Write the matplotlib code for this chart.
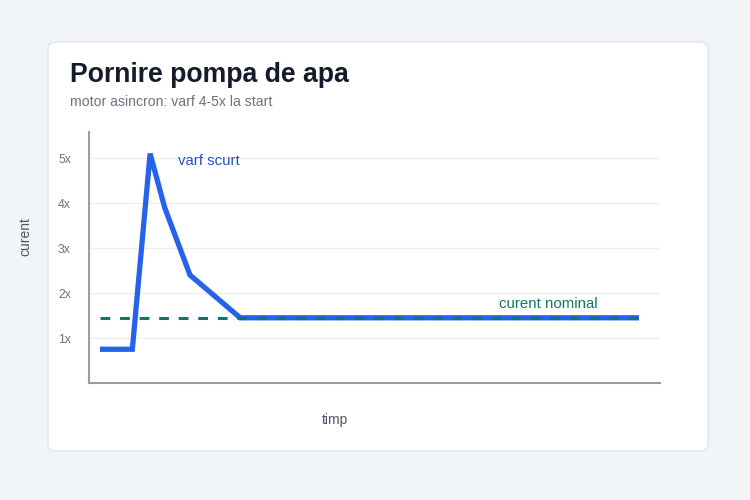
import matplotlib
matplotlib.use("Agg")
import matplotlib.pyplot as plt
from matplotlib.patches import FancyBboxPatch

plt.rcParams['font.family'] = ['Liberation Sans', 'DejaVu Sans']

# data
timp = [0, 6, 9.3, 12, 16.7, 26, 100]
curent = [0.75, 0.75, 5.1, 3.9, 2.4, 1.45, 1.45]
nominal_x = [0, 100]
nominal_y = [1.45, 1.45]
yticks = [1, 2, 3, 4, 5]
yticklabels = ["1x", "2x", "3x", "4x", "5x"]

W, H = 750, 500
fig = plt.figure(figsize=(7.5, 5), dpi=100)
fig.patch.set_facecolor("#f1f5f8")

card = FancyBboxPatch((48 / W, (H - 451) / H), (708 - 48) / W, (451 - 42) / H,
                      boxstyle="round,pad=0,rounding_size=0.012",
                      transform=fig.transFigure, facecolor="white",
                      edgecolor="#e1e5ea", linewidth=1.0, zorder=-10)
fig.patches.append(card)

fig.text(70 / W, 1 - 82 / H, "Pornire pompa de apa", fontsize=19.2,
         fontweight="bold", color="#161b2b", va="baseline")
fig.text(70 / W, 1 - 106 / H, "motor asincron: varf 4-5x la start", fontsize=10.1,
         color="#6b7280", va="baseline")

ax = fig.add_axes([89 / W, (H - 383) / H, (660 - 89) / W, (383 - 132) / H])
ax.set_facecolor("none")
ax.set_zorder(1)
ax.set_xlim(-2.04, 103.9)
ax.set_ylim(0, 5.58)

for yv in yticks:
    ax.axhline(yv, color="#eceef2", linewidth=1, zorder=0)

ax.plot(timp, curent, color="#2563eb", linewidth=3.8, solid_joinstyle="miter",
        solid_capstyle="butt", zorder=3)
ax.plot(nominal_x, nominal_y, color="#0f766e", linewidth=2.2,
        linestyle=(0, (3.2, 3.2)), zorder=4)

ax.text(14.5, 4.93, "varf scurt", color="#2453c8", fontsize=10.8, va="center")
ax.text(92.4, 1.76, "curent nominal", color="#11776b", fontsize=10.8, va="center", ha="right")

ax.set_yticks(yticks)
ax.set_yticklabels(yticklabels, fontsize=8.8, color="#6b7280")
ax.set_xticks([])
ax.tick_params(axis="y", length=0, pad=13)

for s in ["top", "right"]:
    ax.spines[s].set_visible(False)
for s in ["left", "bottom"]:
    ax.spines[s].set_color("#9b9aac")
    ax.spines[s].set_linewidth(1.5)

fig.text(335 / W, 1 - 420 / H, "timp", fontsize=10, color="#4b5563",
         ha="center", va="center")
fig.text(25 / W, 1 - 237 / H, "curent", fontsize=10, color="#4b5563",
         ha="center", va="center", rotation=90)

fig.savefig("out.png", dpi=100, facecolor=fig.get_facecolor())
